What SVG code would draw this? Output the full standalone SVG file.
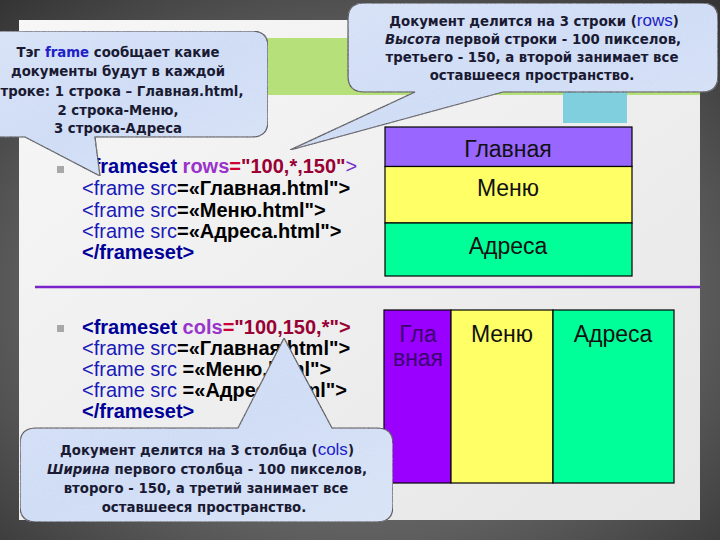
<svg xmlns="http://www.w3.org/2000/svg" width="720" height="540" viewBox="0 0 720 540">
<defs>
<radialGradient id="bg" cx="0.5" cy="0.55" r="0.75">
<stop offset="0" stop-color="#8a8a8a"/>
<stop offset="0.6" stop-color="#5e5e5e"/>
<stop offset="1" stop-color="#333"/>
</radialGradient>
<linearGradient id="slide" x1="0" y1="0" x2="1" y2="1">
<stop offset="0" stop-color="#f7f7f7"/>
<stop offset="1" stop-color="#e6e6e6"/>
</linearGradient>
<linearGradient id="bubble" x1="0" y1="0" x2="1" y2="1">
<stop offset="0" stop-color="#d4e2f7"/>
<stop offset="0.5" stop-color="#c9dbf4"/>
<stop offset="1" stop-color="#d6e3f6"/>
</linearGradient>
<filter id="tex" x="0" y="0" width="1" height="1">
<feTurbulence type="fractalNoise" baseFrequency="0.6" numOctaves="2" seed="3" result="n"/>
<feColorMatrix in="n" type="matrix" values="0 0 0 0 0.85  0 0 0 0 0.82  0 0 0 0 0.95  0 0 0 0.35 0" result="c"/>
<feComposite in="c" in2="SourceGraphic" operator="in" result="cc"/>
<feMerge><feMergeNode in="SourceGraphic"/><feMergeNode in="cc"/></feMerge>
</filter>
<style>
.code{font-family:"Liberation Sans",Arial,sans-serif;font-size:20px}
.tg{fill:#1a1ab8}
.kw{fill:#000099;font-weight:bold}
.at{fill:#9933cc;font-weight:bold}
.val{fill:#990033;font-weight:bold}
.eqr{fill:#cc0033;font-weight:bold}
.blk{fill:#000;font-weight:bold}
.bub{fill:url(#bubble);stroke:#1a1a1a;stroke-width:1.2}
.bt{font-family:"DejaVu Sans",Verdana,sans-serif;font-size:13.3px;font-weight:bold;fill:#1a1a33;text-anchor:middle}
.blue{fill:#2020c8}
.big{font-family:"Liberation Sans",Arial,sans-serif;font-weight:normal;font-size:17px}
.fr{font-family:"Liberation Sans",Arial,sans-serif;font-size:23px;fill:#111;text-anchor:middle}
.cell{stroke:#000;stroke-width:1.2}
.bullet{fill:#a8a8a8}
</style>
</defs>
<rect x="0" y="0" width="720" height="540" fill="url(#bg)"/>
<rect x="19" y="20" width="681" height="500" fill="url(#slide)"/>
<rect x="19" y="38" width="681" height="57" fill="#b5e07a"/>
<rect x="563" y="60" width="64" height="63" fill="#7fcfdf"/>
<line x1="35" y1="287" x2="700" y2="287" stroke="#7a22cc" stroke-width="2.5"/>

<g id="code-rows" class="code">
<rect class="bullet" x="57" y="166" width="7" height="7"/>
<text x="82" y="173"><tspan class="kw">&lt;frameset</tspan><tspan class="at"> rows</tspan><tspan class="eqr">=</tspan><tspan class="val">"100,*,150"</tspan><tspan fill="#7733cc">&gt;</tspan></text>
<text x="82" y="195"><tspan class="tg">&lt;frame src</tspan><tspan class="blk">=«Главная.html"&gt;</tspan></text>
<text x="82" y="217"><tspan class="tg">&lt;frame src</tspan><tspan class="blk">=«Меню.html"&gt;</tspan></text>
<text x="82" y="238"><tspan class="tg">&lt;frame src</tspan><tspan class="blk">=«Адреса.html"&gt;</tspan></text>
<text x="82" y="259" class="kw">&lt;/frameset&gt;</text>
</g>

<g id="code-cols" class="code">
<rect class="bullet" x="57" y="325" width="7" height="7"/>
<text x="82" y="334"><tspan class="kw">&lt;frameset</tspan><tspan class="at"> cols</tspan><tspan class="eqr">=</tspan><tspan class="val">"100,150,*"&gt;</tspan></text>
<text x="82" y="355"><tspan class="tg">&lt;frame src</tspan><tspan class="blk">=«Главная.html"&gt;</tspan></text>
<text x="82" y="376"><tspan class="tg">&lt;frame src </tspan><tspan class="blk">=«Меню.html"&gt;</tspan></text>
<text x="82" y="397"><tspan class="tg">&lt;frame src </tspan><tspan class="blk">=«Адреса.html"&gt;</tspan></text>
<text x="82" y="418" class="kw">&lt;/frameset&gt;</text>
</g>

<g id="rows-diagram">
<rect class="cell" x="385" y="127" width="247" height="39.5" fill="#9966ff"/>
<rect class="cell" x="385" y="166.5" width="247" height="56.5" fill="#ffff66"/>
<rect class="cell" x="385" y="223" width="247" height="53" fill="#00ff99"/>
<text class="fr" x="508" y="157">Главная</text>
<text class="fr" x="508" y="196">Меню</text>
<text class="fr" x="508" y="254">Адреса</text>
</g>

<g id="cols-diagram">
<rect class="cell" x="384" y="310" width="67" height="173" fill="#9900ff"/>
<rect class="cell" x="451" y="310" width="102" height="173" fill="#ffff66"/>
<rect class="cell" x="553" y="310" width="121" height="173" fill="#00ff99"/>
<text class="fr" x="418" y="342" style="fill:#3d0070">Гла</text>
<text class="fr" x="418" y="366" style="fill:#3d0070">вная</text>
<text class="fr" x="502" y="342">Меню</text>
<text class="fr" x="613" y="342">Адреса</text>
</g>

<g id="callouts-connectors">
<g id="callout-frame">
<path class="bub" filter="url(#tex)" d="M -20,31 H 252 Q 268,31 268,47 V 121 Q 268,137 252,137 H 95 L 100,176 L 25,137 H -20 Z"/>
<text class="bt" x="118" y="57">Тэг <tspan class="blue">frame</tspan> сообщает какие</text>
<text class="bt" x="118" y="76">документы будут в каждой</text>
<text class="bt" x="118" y="96">строке: 1 строка – Главная.html,</text>
<text class="bt" x="118" y="115">2 строка-Меню,</text>
<text class="bt" x="118" y="133">3 строка-Адреса</text>
</g>
<g id="callout-rows">
<path class="bub" filter="url(#tex)" d="M 364,3 H 702 Q 718,3 718,19 V 76 Q 718,92 702,92 H 503 L 290,150 L 415,92 H 364 Q 348,92 348,76 V 19 Q 348,3 364,3 Z"/>
<text class="bt" x="534" y="26">Документ делится на 3 строки (<tspan class="blue big">rows</tspan>)</text>
<text class="bt" x="533" y="44"><tspan font-style="italic">Высота</tspan> первой строки - 100 пикселов,</text>
<text class="bt" x="532" y="62">третьего - 150, а второй занимает все</text>
<text class="bt" x="532" y="80">оставшееся пространство.</text>
</g>
<g id="callout-cols">
<path class="bub" filter="url(#tex)" d="M 36,428 H 238 L 284,338 L 332,428 H 377 Q 393,428 393,444 V 506 Q 393,522 377,522 H 36 Q 20,522 20,506 V 444 Q 20,428 36,428 Z"/>
<text class="bt" x="207" y="455">Документ делится на 3 столбца (<tspan class="blue big">cols</tspan>)</text>
<text class="bt" x="207" y="474"><tspan font-style="italic">Ширина</tspan> первого столбца - 100 пикселов,</text>
<text class="bt" x="206" y="493">второго - 150, а третий занимает все</text>
<text class="bt" x="204" y="512">оставшееся пространство.</text>
</g>
</g>
</svg>
